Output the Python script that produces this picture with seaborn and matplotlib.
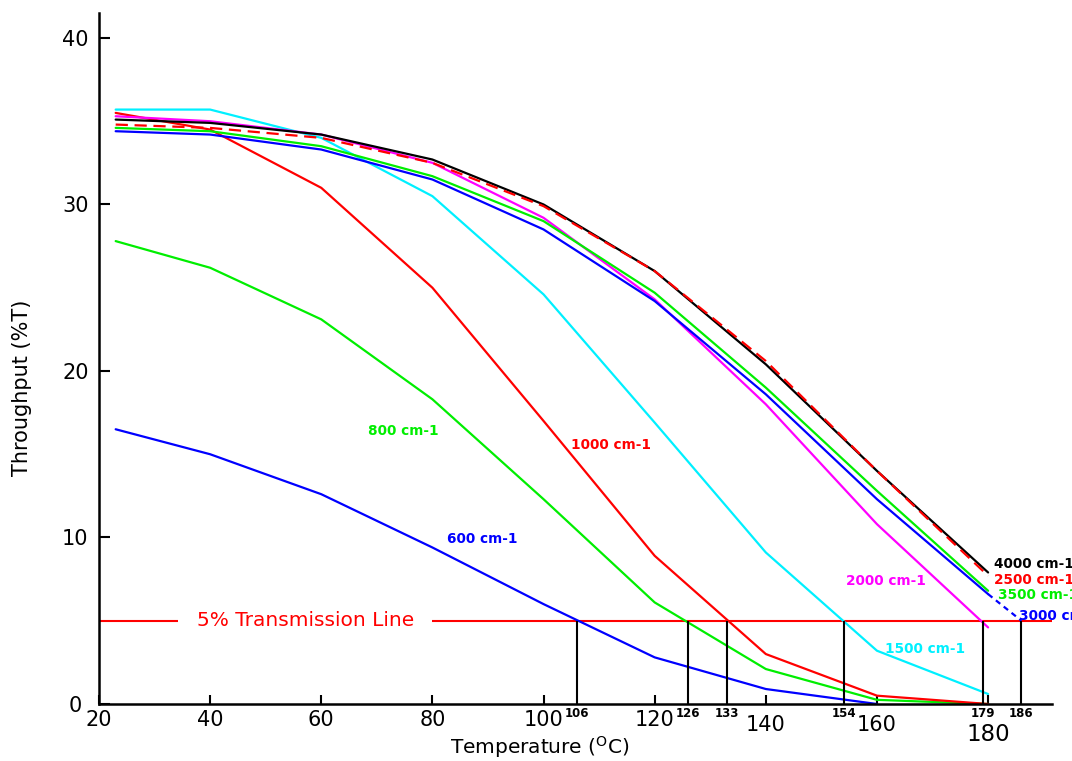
import matplotlib
matplotlib.use("Agg")
import matplotlib.pyplot as plt
import seaborn as sns

# ---------------- data ----------------
temps = [23, 40, 60, 80, 100, 120, 140, 160, 180]
t_4000 = [35.1, 34.9, 34.2, 32.7, 30.0, 26.0, 20.4, 14.0, 7.9]
t_2500 = [34.8, 34.6, 34.0, 32.5, 29.9, 26.0, 20.6, 14.0, 7.7]
t_3500 = [34.6, 34.4, 33.5, 31.7, 29.0, 24.7, 19.0, 12.8, 6.8]
t_3000 = [34.4, 34.2, 33.3, 31.5, 28.5, 24.2, 18.6, 12.3, 6.6]
t_2000 = [35.3, 35.0, 34.2, 32.5, 29.2, 24.3, 18.0, 10.8, 4.6]
t_1500 = [35.7, 35.7, 34.0, 30.5, 24.6, 16.9, 9.1, 3.2, 0.6]
t_1000 = [35.5, 34.5, 31.0, 25.0, 17.0, 8.9, 3.0, 0.5, 0.0]
t_800 = [27.8, 26.2, 23.1, 18.3, 12.3, 6.1, 2.1, 0.25, 0.0]
temps_600 = [23, 40, 60, 80, 100, 120, 140, 160]
t_600 = [16.5, 15.0, 12.6, 9.4, 6.0, 2.8, 0.9, 0.0]

# extrapolation of the 3000 cm-1 curve to the 5 % line
ext_temps_3000 = [180, 186]
ext_3000 = [6.6, 5.0]

threshold = 5
cross_temps = [106, 126, 133, 154, 179, 186]
x_ticks = [20, 40, 60, 80, 100, 120, 140, 160, 180]
y_ticks = [0, 10, 20, 30, 40]

# ---------------- style ----------------
sns.set_theme(style="ticks")
plt.rcParams['font.family'] = ['DejaVu Sans']
plt.rcParams['text.color'] = 'black'
plt.rcParams['axes.labelcolor'] = 'black'

RED, GREEN, BLUE = '#ff0000', '#00ee00', '#0000ff'
CYAN, MAGENTA, BLACK = '#00f0ff', '#ff00ff', '#000000'

fig = plt.figure(figsize=(10.72, 7.61), dpi=100)
ax = fig.add_axes([99 / 1072, 57 / 761, 953 / 1072, 691 / 761])

LW = 1.6
series = [
    (temps_600, t_600, BLUE, '-'),
    (temps, t_800, GREEN, '-'),
    (temps, t_1000, RED, '-'),
    (temps, t_1500, CYAN, '-'),
    (temps, t_2000, MAGENTA, '-'),
    (temps, t_3000, BLUE, '-'),
    (temps, t_3500, GREEN, '-'),
    (temps, t_4000, BLACK, '-'),
    (temps, t_2500, RED, (0, (5.5, 3))),
]
for xs, ys, c, ls in series:
    sns.lineplot(x=xs, y=ys, color=c, linestyle=ls, linewidth=LW,
                 sort=False, errorbar=None, ax=ax)

sns.lineplot(x=ext_temps_3000, y=ext_3000, color=BLUE, linestyle=(0, (2.5, 2)),
             linewidth=LW, sort=False, errorbar=None, ax=ax)

# 5 % transmission line
ax.axhline(threshold, color=RED, linewidth=1.5, zorder=1.5)
ax.text(57.1, threshold, "5% Transmission Line", color=RED, fontsize=14.5,
        ha='center', va='center', zorder=3,
        bbox=dict(boxstyle='square,pad=0.9', fc='white', ec='none'))

# drop lines at crossing temperatures
ax.vlines(cross_temps, 0, threshold, color='black', linewidth=1.5, zorder=2.6)
for ct in cross_temps:
    ax.annotate(str(ct), xy=(ct, 0), xycoords=('data', 'axes fraction'),
                xytext=(0, -2.5), textcoords='offset points',
                ha='center', va='top', fontsize=8.5, fontweight='bold',
                color='black', annotation_clip=False)

# curve labels
lab_kw = dict(fontsize=9.8, fontweight='bold', ha='left', va='center')
ax.text(68.4, 16.4, "800 cm-1", color=GREEN, **lab_kw)
ax.text(104.9, 15.55, "1000 cm-1", color=RED, **lab_kw)
ax.text(82.6, 9.9, "600 cm-1", color=BLUE, **lab_kw)
ax.text(154.4, 7.4, "2000 cm-1", color=MAGENTA, **lab_kw)
ax.text(161.5, 3.3, "1500 cm-1", color=CYAN, **lab_kw)
ax.text(181.0, 8.4, "4000 cm-1", color=BLACK, clip_on=False, **lab_kw)
ax.text(181.0, 7.45, "2500 cm-1", color=RED, clip_on=False, **lab_kw)
ax.text(181.8, 6.55, "3500 cm-1", color=GREEN, clip_on=False, **lab_kw)
ax.text(185.5, 5.3, "3000 cm-1", color=BLUE, clip_on=False, **lab_kw)

# axes
ax.set_xlim(20, 191.5)
ax.set_ylim(0, 41.5)
sns.despine(ax=ax)
for s in ('left', 'bottom'):
    ax.spines[s].set_linewidth(1.8)
    ax.spines[s].set_color('black')
    ax.spines[s].set_zorder(2.5)

ax.set_xticks(x_ticks)
ax.set_xticklabels([str(v) for v in x_ticks])
ax.set_yticks(y_ticks)
ax.set_yticklabels([str(v) for v in y_ticks])
ax.tick_params(axis='x', direction='in', length=6.5, width=1.5, pad=4,
               labelsize=15, colors='black')
ax.tick_params(axis='y', direction='in', length=8, width=1.5, pad=17,
               labelsize=15, colors='black')
plt.setp(ax.get_yticklabels(), ha='center')

xt = ax.xaxis.get_major_ticks()
for v, tk in zip(x_ticks, xt):
    if v in (140, 160):
        tk.set_pad(8)
    if v == 180:
        tk.set_pad(14)
        tk.label1.set_fontsize(16.5)

ax.set_xlabel("")
ax.set_ylabel("")
fig.text(540 / 1072, 1 - 747 / 761, r"Temperature ($^{\rm O}$C)", fontsize=14.5,
         ha='center', va='center', color='black')
fig.text(22 / 1072, 1 - 388 / 761, "Throughput (%T)", fontsize=15,
         rotation=90, ha='center', va='center', color='black')

ax.set_facecolor('white')
fig.patch.set_facecolor('white')
fig.savefig("out.png", dpi=100)
